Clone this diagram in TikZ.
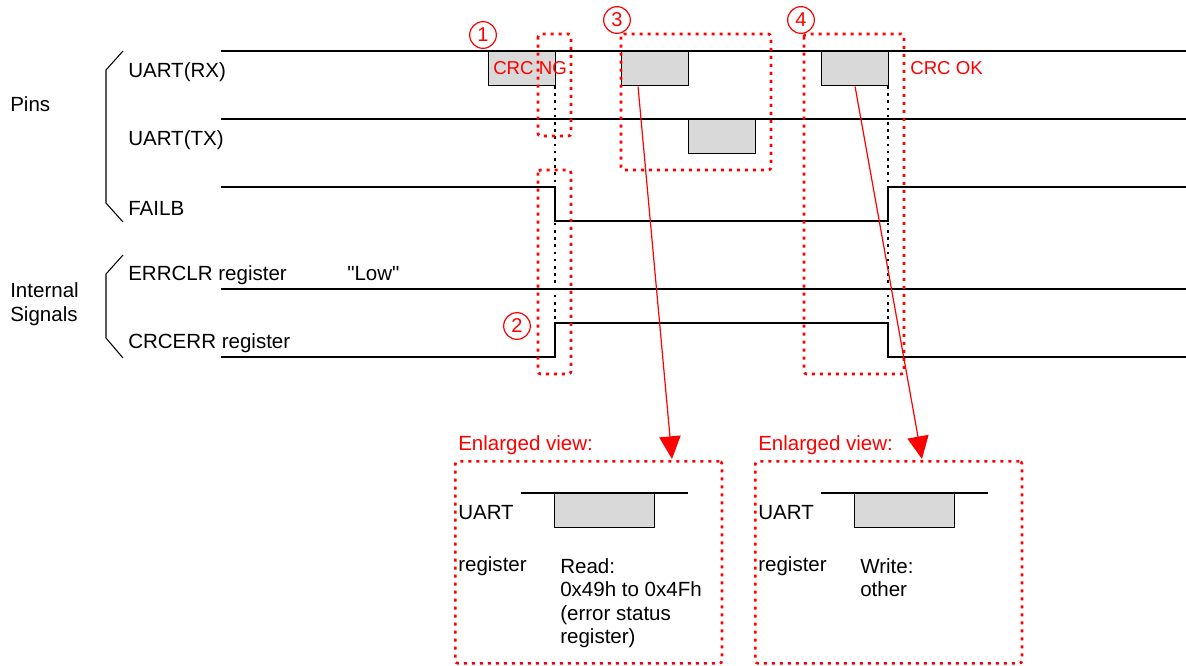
\documentclass[tikz,border=0pt]{standalone}
\usepackage{fontspec}
\setmainfont{Liberation Sans}
\newfontfamily\quotefont{Liberation Sans}[Ligatures=TeXOff]
\usepackage{tikz}
\usetikzlibrary{positioning,arrows.meta,calc}
\definecolor{MarkRed}{HTML}{FF0000}
\definecolor{PulseGray}{HTML}{D9D9D9}
\definecolor{WireBlack}{HTML}{000000}

\begin{document}
\begin{tikzpicture}[x=0.75pt,y=-0.75pt,
    every node/.style={font=\fontsize{15.4}{17.6}\selectfont, inner sep=0pt, text=WireBlack},
    wire/.style={draw=WireBlack, line width=1.1pt},
    brace/.style={draw=WireBlack, line width=0.8pt},
    pulse/.style={draw=WireBlack, line width=1.1pt, fill=PulseGray, anchor=north west,
                  minimum width=50pt, minimum height=25.5pt},
    guide/.style={draw=WireBlack, line width=2.2pt, dash pattern=on 2pt off 3.4pt},
    redbox/.style={draw=MarkRed, line width=2pt, dash pattern=on 2.2pt off 3.8pt, rounded corners=2pt},
    badge/.style={circle, draw=MarkRed, line width=0.9pt, text=MarkRed, minimum size=20pt,
                  font=\fontsize{15}{17}\selectfont},
    note/.style={anchor=west, text=MarkRed, font=\fontsize{14}{16}\selectfont},
    zoomarrow/.style={draw=MarkRed, line width=0.9pt, -{Triangle[length=17pt,width=16pt]}}
  ]
      \useasboundingbox (0,0) rectangle (1186,665);
      \node[anchor=west] (pins) at (10,104) {Pins};
      \node[anchor=west, align=left] (internal) at (10,304) {Internal\\Signals};
      \draw[brace] (123,51) -- (106,70) -- (106,203) -- (123,222);
      \draw[brace] (123,255) -- (106,274) -- (106,338) -- (123,358);
      \foreach \lname/\ly/\ltxt in {
        rxlab/72/{UART(RX)},
        txlab/140/{UART(TX)},
        faillab/208/{FAILB},
        clrlab/275/{ERRCLR register},
        errlab/343/{CRCERR register}
      }{
        \node[anchor=west] (\lname) at (128,\ly) {\ltxt};
      }
      \node[anchor=west] (lowlab) at (347,274) {\quotefont "Low"};
      \foreach \gx in {555,888}{
        \draw[guide] (\gx,86) -- (\gx,340);
      }
      \draw[wire] (221,51) -- (1186,51);
      \draw[wire] (221,119) -- (1186,119);
      \draw[wire] (221,187) -- (555,187) -- (555,221) -- (888,221) -- (888,187) -- (1186,187);
      \draw[wire] (221,289) -- (1186,289);
      \draw[wire] (221,357) -- (555,357) -- (555,323) -- (888,323) -- (888,357) -- (1186,357);
      \foreach \pname/\px/\py in {rxng/488/51, rxread/621/51, txresp/688/119, rxwrite/821/51}{
        \node[pulse] (\pname) at (\px,\py) {};
      }
      \node[note] (crcng) at (493,68) {CRC NG};
      \node[note] (crcok) at (910,68) {CRC OK};
      \foreach \xa/\ya/\xb/\yb in {538/34/571/136, 538/170/571/374, 621/34/771/170, 804/34/904/374}{
        \draw[redbox] (\xa,\ya) rectangle (\xb,\yb);
      }
      \foreach \mname/\mx/\my/\mnum in {mark1/483/35/1, mark2/517/326/2, mark3/617/20/3, mark4/801/20/4}{
        \node[badge] (\mname) at (\mx,\my) {\mnum};
      }
      \foreach \vname/\vx in {viewread/454, viewwrite/754}{
        \node[redbox, anchor=north west, minimum width=200pt, minimum height=151.5pt] (\vname) at (\vx,460) {};
        \node[anchor=west, text=MarkRed] (\vname head) at (\vx+4,445) {Enlarged view:};
        \draw[wire] (\vx+67,493) -- (\vx+234,493);
        \node[pulse, minimum width=75pt] (\vname pulse) at (\vx+100,493) {};
        \node[anchor=west] (\vname uart) at (\vx+4,513) {UART};
        \node[anchor=west] (\vname reg) at (\vx+4,566) {register};
      }
      \node[anchor=north west, align=left] (readtext) at (560,558)
        {Read:\\0x49h to 0x4Fh\\(error status\\register)};
      \node[anchor=north west, align=left] (writetext) at (860,558) {Write:\\other};
      \coordinate (readtip) at (672,459);
      \coordinate (writetip) at (922,459);
      \draw[zoomarrow] ($(rxread.south west)!0.25!(rxread.south east)$) -- (readtip);
      \draw[zoomarrow] (rxwrite.south) -- (writetip);
    \end{tikzpicture}
\end{document}
